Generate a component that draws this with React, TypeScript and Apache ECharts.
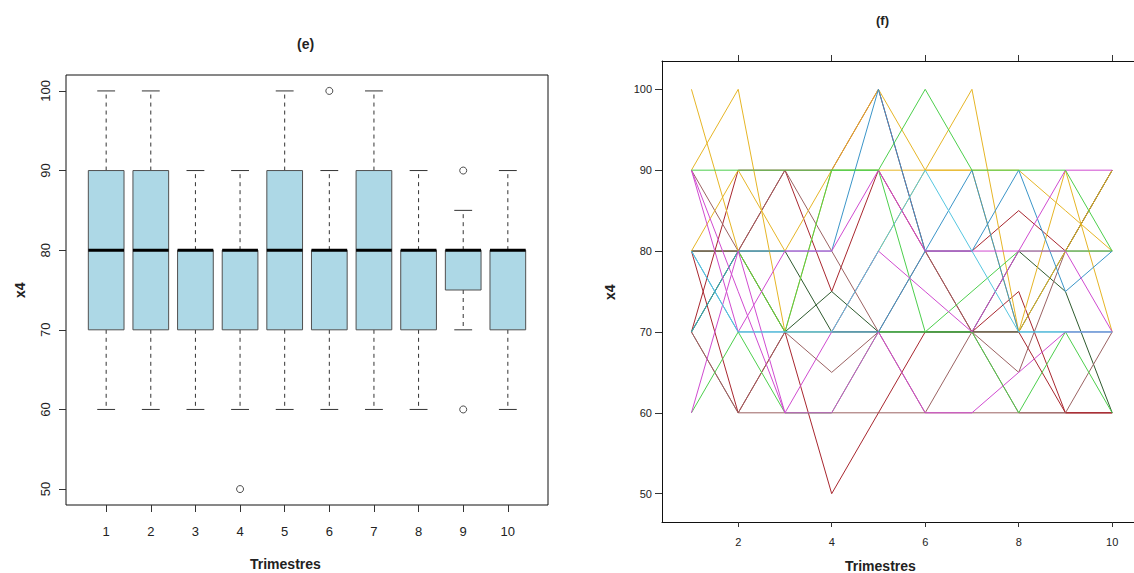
import React, { useEffect, useRef } from "react";
import * as echarts from "echarts";

// Trimestres 1..10
const trimestres = [1, 2, 3, 4, 5, 6, 7, 8, 9, 10];

// Box summaries of x4 per trimestre (whisker low, Q1, median, Q3, whisker high)
const boxLow = [60, 60, 60, 60, 60, 60, 60, 60, 70, 60];
const boxQ1 = [70, 70, 70, 70, 70, 70, 70, 70, 75, 70];
const boxMedian = [80, 80, 80, 80, 80, 80, 80, 80, 80, 80];
const boxQ3 = [90, 90, 80, 80, 90, 80, 90, 80, 80, 80];
const boxHigh = [100, 100, 90, 90, 100, 90, 100, 90, 85, 90];

// Outlying observations
const outlierTrimestre = [4, 6, 9, 9];
const outlierValue = [50, 100, 90, 60];

// Individual trajectories of x4 across the ten trimestres
const sA = [100, 80, 70, 70, 80, 90, 90, 70, 90, 70];
const sB = [90, 100, 70, 90, 100, 90, 100, 70, 80, 90];
const sC = [80, 90, 80, 90, 90, 90, 90, 90, 85, 80];
const sD = [90, 90, 90, 90, 90, 100, 90, 90, 90, 80];
const sE = [60, 70, 60, 60, 70, 70, 70, 60, 70, 60];
const sF = [70, 80, 70, 90, 90, 70, 75, 80, 80, 80];
const sH = [80, 70, 70, 70, 70, 80, 90, 70, 70, 70];
const sI = [70, 80, 80, 80, 100, 80, 80, 90, 75, 80];
const sJ = [80, 70, 70, 70, 80, 90, 80, 70, 70, 70];
const sK = [90, 70, 80, 80, 90, 80, 80, 80, 90, 90];
const sL = [60, 80, 60, 60, 70, 60, 60, 65, 70, 70];
const sM = [90, 75, 60, 70, 80, 75, 70, 80, 80, 70];
const sN = [80, 60, 70, 50, 60, 70, 70, 75, 60, 60];
const sO = [70, 90, 90, 75, 90, 80, 80, 85, 80, 90];
const sP = [80, 80, 80, 70, 70, 70, 70, 70, 80, 90];
const sQ = [70, 80, 70, 75, 70, 70, 70, 80, 75, 60];
const sR = [90, 80, 90, 80, 70, 60, 70, 65, 80, 80];
const sS = [70, 60, 70, 65, 70, 80, 70, 60, 60, 70];
const sT = [80, 80, 90, 90, 100, 80, 70, 70, 60, 60];
const sU = [70, 60, 60, 60, 60, 60, 60, 60, 60, 60];

const GOLD = "#E6B526";
const GREEN = "#4CCF4C";
const BLUE = "#3B95C8";
const CYAN = "#55C6E0";
const MAGENTA = "#D04BD0";
const DARKRED = "#A8262E";
const DARKGREEN = "#2E5A2E";
const BROWN = "#9B6262";

// Drawing order: later entries are painted on top
const trajectories = [sU, sT, sO, sN, sP, sQ, sR, sS, sA, sB, sC, sE, sF, sH, sI, sL, sM, sK, sJ, sD];
const trajectoryColors = [
  BROWN, DARKRED, DARKRED, DARKRED, DARKGREEN, DARKGREEN, BROWN, BROWN, GOLD, GOLD,
  GOLD, GREEN, GREEN, BLUE, BLUE, MAGENTA, MAGENTA, MAGENTA, CYAN, GREEN,
];

const yTicks = [50, 60, 70, 80, 90, 100];
const rightXTicks = [2, 4, 6, 8, 10];

const FONT = "'Liberation Sans', Arial, Helvetica, sans-serif";

export default function App() {
  const ref = useRef<HTMLDivElement>(null);

  useEffect(() => {
    document.body.style.margin = "0";
    if (!ref.current) return;
    const chart = echarts.init(ref.current, undefined, { renderer: "svg" });

    const boxData = trimestres.map((t, i) => [t, boxLow[i], boxQ1[i], boxMedian[i], boxQ3[i], boxHigh[i]]);

    const renderBox = (params: any, api: any) => {
      const x = api.value(0);
      const lo = api.coord([x, api.value(1)]);
      const q1 = api.coord([x, api.value(2)]);
      const md = api.coord([x, api.value(3)]);
      const q3 = api.coord([x, api.value(4)]);
      const hi = api.coord([x, api.value(5)]);
      const w = api.size([0.8, 0])[0];
      const half = w / 2;
      const cap = w / 4;
      const cx = lo[0];
      const dash = { stroke: "#333", lineWidth: 1, lineDash: [4, 4] };
      const solid = { stroke: "#333", lineWidth: 1 };
      return {
        type: "group",
        children: [
          { type: "line", shape: { x1: cx, y1: q1[1], x2: cx, y2: lo[1] }, style: dash },
          { type: "line", shape: { x1: cx, y1: q3[1], x2: cx, y2: hi[1] }, style: dash },
          { type: "line", shape: { x1: cx - cap, y1: lo[1], x2: cx + cap, y2: lo[1] }, style: solid },
          { type: "line", shape: { x1: cx - cap, y1: hi[1], x2: cx + cap, y2: hi[1] }, style: solid },
          {
            type: "rect",
            shape: { x: cx - half, y: q3[1], width: w, height: q1[1] - q3[1] },
            style: { fill: "#ADD8E6", stroke: "#505050", lineWidth: 1 },
          },
          { type: "line", shape: { x1: cx - half, y1: md[1], x2: cx + half, y2: md[1] }, style: { stroke: "#000", lineWidth: 3 } },
        ],
      };
    };

    const lineSeries = trajectories.map((vals, k) => ({
      type: "line",
      xAxisIndex: 1,
      yAxisIndex: 1,
      data: trimestres.map((t, i) => [t, vals[i]]),
      symbol: "none",
      lineStyle: { width: 1, color: trajectoryColors[k] },
      itemStyle: { color: trajectoryColors[k] },
      silent: true,
      z: 2,
    }));

    // Right panel: 46.75 px per trimestre, axis starting at 0.37, frame running past the right edge
    const rightLeft = 662;
    const rightWidth = 1134 - rightLeft;
    const rightMin = 0.37;
    const rightMax = rightMin + rightWidth / 46.75;
    const frameLine = { show: true, lineStyle: { color: "#111", width: 1 } };

    chart.setOption({
      animation: false,
      textStyle: { fontFamily: FONT },
      grid: [
        { left: 66, top: 75, width: 482, height: 430, show: true, borderColor: "#111", borderWidth: 1, backgroundColor: "transparent" },
        { left: rightLeft, top: 61, width: rightWidth, height: 461 },
      ],
      xAxis: [
        {
          type: "value", gridIndex: 0, min: 0.1, max: 10.9,
          splitLine: { show: false },
          axisLine: { show: false },
          axisTick: { show: true, customValues: trimestres, length: 7, lineStyle: { color: "#333" } },
          axisLabel: { customValues: trimestres, margin: 20, fontSize: 13, color: "#222", fontFamily: FONT },
        },
        {
          type: "value", gridIndex: 1, min: rightMin, max: rightMax,
          splitLine: { show: false },
          axisLine: frameLine,
          axisTick: { show: true, customValues: rightXTicks, length: 5, lineStyle: { color: "#333" } },
          axisLabel: { customValues: rightXTicks, margin: 14, fontSize: 11, color: "#222", fontFamily: FONT },
        },
        {
          type: "value", gridIndex: 1, min: rightMin, max: rightMax, position: "top",
          splitLine: { show: false },
          axisLine: frameLine,
          axisTick: { show: true, customValues: rightXTicks, length: 6, lineStyle: { color: "#333" } },
          axisLabel: { show: false },
        },
      ],
      yAxis: [
        {
          type: "value", gridIndex: 0, min: 48, max: 102,
          splitLine: { show: false },
          axisLine: { show: false },
          axisTick: { show: true, customValues: yTicks, length: 7, lineStyle: { color: "#333" } },
          axisLabel: { customValues: yTicks, rotate: 90, margin: 14, fontSize: 13, color: "#222", fontFamily: FONT },
        },
        {
          type: "value", gridIndex: 1, min: 46.5, max: 103.5,
          splitLine: { show: false },
          axisLine: frameLine,
          axisTick: { show: true, customValues: yTicks, length: 7, lineStyle: { color: "#333" } },
          axisLabel: { customValues: yTicks, margin: 10, fontSize: 11, color: "#222", fontFamily: FONT },
        },
      ],
      series: [
        {
          type: "custom",
          xAxisIndex: 0,
          yAxisIndex: 0,
          data: boxData,
          encode: { x: 0, y: [1, 2, 3, 4, 5] },
          renderItem: renderBox,
          silent: true,
          z: 2,
        },
        {
          type: "scatter",
          xAxisIndex: 0,
          yAxisIndex: 0,
          data: outlierTrimestre.map((t, i) => [t, outlierValue[i]]),
          symbol: "circle",
          symbolSize: 7,
          itemStyle: { color: "#fff", borderColor: "#222", borderWidth: 1 },
          silent: true,
          z: 3,
        },
        ...lineSeries,
      ],
      graphic: [
        { type: "text", left: 297, top: 37, style: { text: "(e)", font: `bold 14px ${FONT}`, fill: "#222" } },
        { type: "text", left: 250, top: 557, style: { text: "Trimestres", font: `bold 14px ${FONT}`, fill: "#222" } },
        { type: "text", x: 13, y: 298, rotation: Math.PI / 2, style: { text: "x4", font: `bold 14px ${FONT}`, fill: "#222" } },
        { type: "text", left: 876, top: 14, style: { text: "(f)", font: `bold 13px ${FONT}`, fill: "#222" } },
        { type: "text", left: 845, top: 559, style: { text: "Trimestres", font: `bold 14px ${FONT}`, fill: "#222" } },
        { type: "text", x: 603, y: 300, rotation: Math.PI / 2, style: { text: "x4", font: `bold 14px ${FONT}`, fill: "#222" } },
      ],
    });

    return () => chart.dispose();
  }, []);

  return <div ref={ref} style={{ position: "absolute", left: 0, top: 0, width: 1134, height: 573 }} />;
}
